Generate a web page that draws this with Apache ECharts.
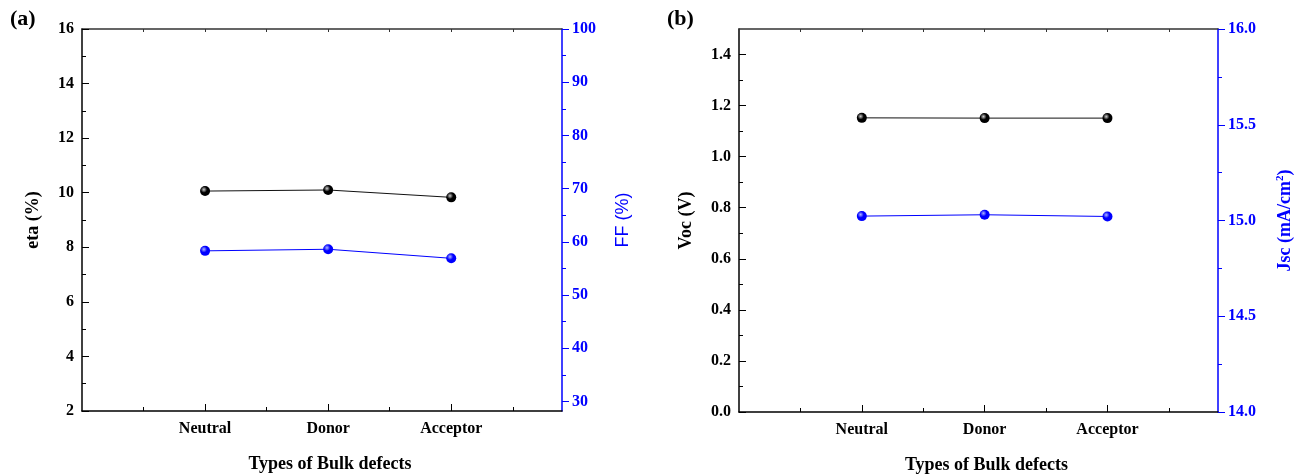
<!DOCTYPE html>
<html>
<head>
<meta charset="utf-8">
<script src="https://cdn.jsdelivr.net/npm/echarts@6/dist/echarts.min.js"></script>
<style>
  html, body { margin: 0; padding: 0; background: #fff; }
  #chart { width: 1295px; height: 474px; }
</style>
</head>
<body>
<div id="chart"></div>
<script>
// categories on the x axis (placed at 1, 2, 3 on a 0..3.9 value axis)
const categories = ['Neutral', 'Donor', 'Acceptor']

// panel (a)
const eta = [10.06, 10.10, 9.83]
const ff = [58.3, 58.6, 56.9]
// panel (b)
const voc = [1.152, 1.151, 1.151]
const jsc = [15.023, 15.030, 15.021]

// ticks
const xMajor = [1, 2, 3]
const xMinor = [0.5, 1.5, 2.5, 3.5]
const xTop = [0.5, 1, 1.5, 2, 2.5, 3, 3.5]
const etaTicks = [2, 4, 6, 8, 10, 12, 14, 16]
const etaMinor = [3, 5, 7, 9, 11, 13, 15]
const ffTicks = [30, 40, 50, 60, 70, 80, 90, 100]
const ffMinor = [35, 45, 55, 65, 75, 85, 95]
const vocTicks = [0, 0.2, 0.4, 0.6, 0.8, 1.0, 1.2, 1.4]
const vocMinor = [0.1, 0.3, 0.5, 0.7, 0.9, 1.1, 1.3]
const jscTicks = [14, 14.5, 15, 15.5, 16]
const jscMinor = [14.25, 14.75, 15.25, 15.75]

const SERIF = '"Liberation Serif", "Times New Roman", serif'
const BLUE = '#0000ff'

function pts(vals) {
  return vals.map((v, i) => [i + 1, v])
}

function ball(base, light) {
  return {
    type: 'radial', x: 0.38, y: 0.35, r: 0.7,
    colorStops: [{ offset: 0, color: light }, { offset: 0.45, color: base }, { offset: 1, color: base }]
  }
}

function xAxes(grid) {
  return [
    {
      gridIndex: grid, type: 'value', position: 'bottom', min: 0, max: 3.9,
      axisLine: { onZero: false, lineStyle: { color: '#000', width: 1.5 } },
      axisTick: { inside: true, length: 7, customValues: xMajor, lineStyle: { color: '#000', width: 1 } },
      axisLabel: {
        customValues: xMajor, margin: 10,
        formatter: v => categories[Math.round(v) - 1] || '',
        color: '#000', fontFamily: SERIF, fontWeight: 'bold', fontSize: 16
      },
      splitLine: { show: false },
      name: 'Types of Bulk defects', nameLocation: 'middle', nameGap: 44,
      nameTextStyle: { color: '#000', fontFamily: SERIF, fontWeight: 'bold', fontSize: 18, padding: [0, 0, 0, 16] }
    },
    {
      gridIndex: grid, type: 'value', position: 'bottom', min: 0, max: 3.9,
      axisLine: { show: false, onZero: false },
      axisTick: { inside: true, length: 4, customValues: xMinor, lineStyle: { color: '#000', width: 1 } },
      axisLabel: { show: false }, splitLine: { show: false }
    },
    {
      gridIndex: grid, type: 'value', position: 'top', min: 0, max: 3.9,
      axisLine: { onZero: false, lineStyle: { color: '#333', width: 1.5 } },
      axisTick: { inside: true, length: 3, customValues: xTop, lineStyle: { color: '#333', width: 1 } },
      axisLabel: { show: false }, splitLine: { show: false }
    }
  ]
}

function yPair(grid, side, min, max, major, minor, color, inside, fmt, name, nameStyle, nameGap) {
  return [
    {
      gridIndex: grid, type: 'value', position: side, min: min, max: max,
      axisLine: { show: true, onZero: false, lineStyle: { color: color, width: 1.5 } },
      axisTick: { show: true, inside: inside, length: 7, customValues: major, lineStyle: { color: color, width: 1 } },
      axisLabel: {
        customValues: major, margin: inside ? 8 : 10, formatter: fmt,
        color: color, fontFamily: SERIF, fontWeight: 'bold', fontSize: 16
      },
      splitLine: { show: false },
      name: name, nameLocation: 'middle', nameRotate: 90, nameGap: nameGap,
      nameTextStyle: nameStyle
    },
    {
      gridIndex: grid, type: 'value', position: side, min: min, max: max,
      axisLine: { show: false, onZero: false },
      axisTick: { show: true, inside: inside, length: 4, customValues: minor, lineStyle: { color: color, width: 1 } },
      axisLabel: { show: false }, splitLine: { show: false }
    }
  ]
}

const titleBold = { color: '#000', fontFamily: SERIF, fontWeight: 'bold', fontSize: 18 }

const option = {
  animation: false,
  backgroundColor: '#fff',
  grid: [
    { left: 82, top: 29, width: 480, height: 382, outerBoundsMode: 'none' },
    { left: 739, top: 29, width: 479, height: 383, outerBoundsMode: 'none' }
  ],
  xAxis: [...xAxes(0), ...xAxes(1)],
  yAxis: [
    ...yPair(0, 'left', 2, 16, etaTicks, etaMinor, '#000', true, v => String(v),
      'eta (%)', titleBold, 40),
    ...yPair(0, 'right', 28.2, 100, ffTicks, ffMinor, BLUE, false, v => String(v),
      'FF (%)', { color: BLUE, fontFamily: '"Liberation Sans", Arial, sans-serif', fontSize: 18 }, 52),
    ...yPair(1, 'left', 0, 1.5, vocTicks, vocMinor, '#000', true, v => v.toFixed(1),
      'Voc (V)', titleBold, 44),
    ...yPair(1, 'right', 14, 16, jscTicks, jscMinor, BLUE, false, v => v.toFixed(1),
      'Jsc (mA/cm{sup|2})', {
        color: BLUE, fontFamily: SERIF, fontWeight: 'bold', fontSize: 18,
        rich: { sup: { color: BLUE, fontFamily: SERIF, fontWeight: 'bold', fontSize: 11, verticalAlign: 'top', padding: [0, 0, 10, 0] } }
      }, 57)
  ],
  series: [
    {
      name: 'eta', type: 'line', xAxisIndex: 0, yAxisIndex: 0, data: pts(eta),
      symbol: 'circle', symbolSize: 10,
      lineStyle: { color: '#111', width: 1 },
      itemStyle: { color: ball('#000', '#cfcfcf') }
    },
    {
      name: 'FF', type: 'line', xAxisIndex: 0, yAxisIndex: 2, data: pts(ff),
      symbol: 'circle', symbolSize: 10,
      lineStyle: { color: BLUE, width: 1 },
      itemStyle: { color: ball(BLUE, '#b0b8ff') }
    },
    {
      name: 'Voc', type: 'line', xAxisIndex: 3, yAxisIndex: 4, data: pts(voc),
      symbol: 'circle', symbolSize: 10,
      lineStyle: { color: '#111', width: 1 },
      itemStyle: { color: ball('#000', '#cfcfcf') }
    },
    {
      name: 'Jsc', type: 'line', xAxisIndex: 3, yAxisIndex: 6, data: pts(jsc),
      symbol: 'circle', symbolSize: 10,
      lineStyle: { color: BLUE, width: 1 },
      itemStyle: { color: ball(BLUE, '#b0b8ff') }
    }
  ],
  graphic: [
    { type: 'text', left: 10, top: 8, style: { text: '(a)', font: 'bold 22px ' + SERIF, fill: '#000' } },
    { type: 'text', left: 667, top: 8, style: { text: '(b)', font: 'bold 22px ' + SERIF, fill: '#000' } }
  ]
}

const chart = echarts.init(document.getElementById('chart'), null, { renderer: 'canvas' })
chart.setOption(option)
</script>
</body>
</html>
